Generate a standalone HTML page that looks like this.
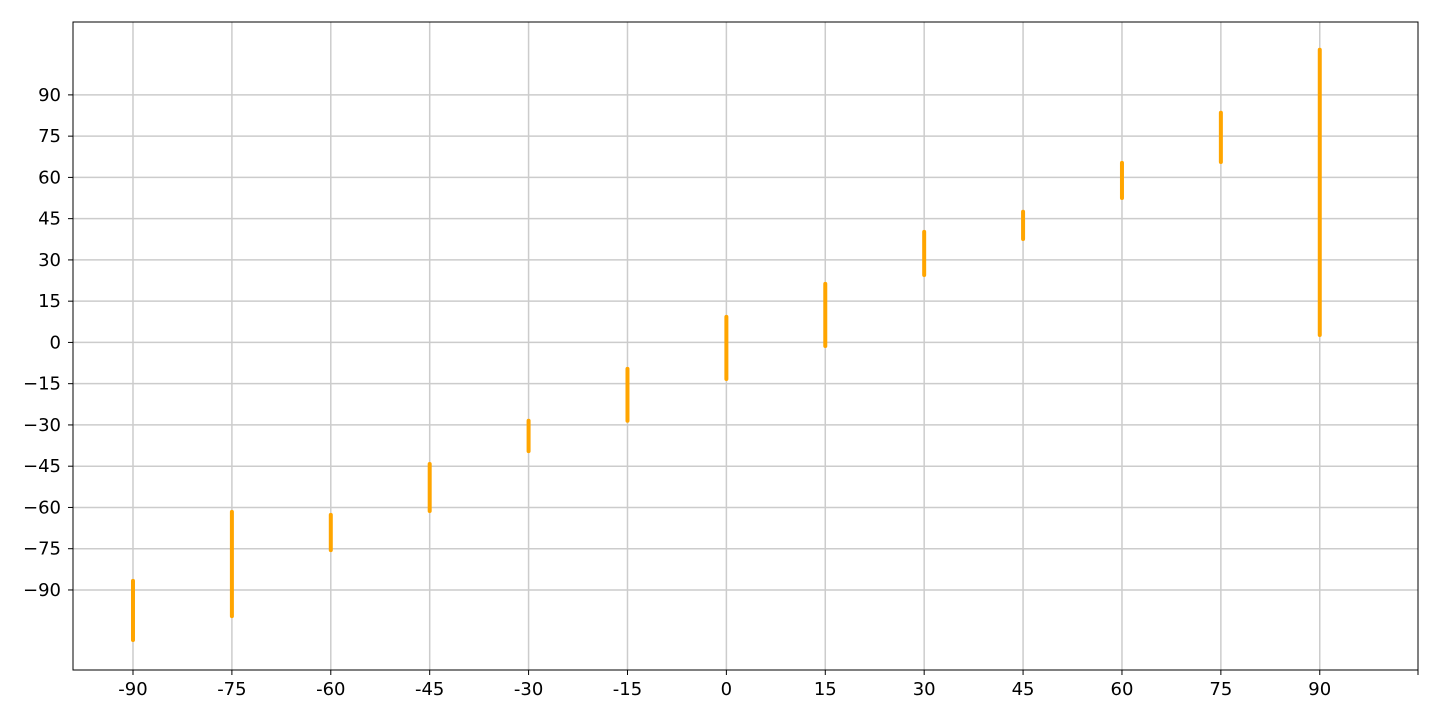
<!DOCTYPE html>
<html><head><meta charset="utf-8"><style>
html,body{margin:0;padding:0;background:#fff;}
svg text{font-family:"DejaVu Sans","Liberation Sans",sans-serif;font-size:18px;fill:#000;}
</style></head><body>
<svg id="chart" width="1440" height="720" xmlns="http://www.w3.org/2000/svg"></svg>
<script>
const categories = [-90,-75,-60,-45,-30,-15,0,15,30,45,60,75,90];
const lowValues  = [-108.2,-99.5,-75.5,-61.3,-39.5,-28.5,-13.3,-1.3,24.5,37.6,52.5,65.6,2.7];
const highValues = [-86.7,-61.6,-62.7,-44.2,-28.5,-9.6,9.3,21.3,40.2,47.5,65.3,83.5,106.4];
const xTickLabels = [-90,-75,-60,-45,-30,-15,0,15,30,45,60,75,90];
const yTickLabels = [-90,-75,-60,-45,-30,-15,0,15,30,45,60,75,90];

const L=73,R=1418,T=22,B=670;
const xMin=-99.1,xMax=104.9,yMin=-119.1,yMax=116.5;
const sx=v=>L+(v-xMin)/(xMax-xMin)*(R-L);
const sy=v=>B-(v-yMin)/(yMax-yMin)*(B-T);
const svg=document.getElementById('chart');
const NS='http://www.w3.org/2000/svg';
function mk(tag,attrs,parent){const e=document.createElementNS(NS,tag);for(const k in attrs)e.setAttribute(k,attrs[k]);(parent||svg).appendChild(e);return e;}

const grid=mk('g',{});


xTickLabels.forEach(v=>{
  const x=sx(v);
  const gl=mk('line',{x1:x,x2:x,y1:T,y2:B,stroke:'#cccccc','stroke-width':1.5},grid);
  
  
  const tk=mk('line',{x1:x,x2:x,y1:B,y2:B+5,stroke:'#000','stroke-width':1});
  
  
  const t=mk('text',{x:x,y:B+25,'text-anchor':'middle'});
  t.textContent=v;
  
  
});
const extra=mk('line',{x1:R,x2:R,y1:B,y2:B+5,stroke:'#000','stroke-width':1});


yTickLabels.forEach(v=>{
  const y=sy(v);
  const gl=mk('line',{x1:L,x2:R,y1:y,y2:y,stroke:'#cccccc','stroke-width':1.5},grid);
  
  
  const tk=mk('line',{x1:L-5,x2:L,y1:y,y2:y,stroke:'#000','stroke-width':1});
  
  
  const t=mk('text',{x:L-12,y:y+6,'text-anchor':'end'});
  t.textContent=String(v).replace('-','\u2212');
  
  
});
categories.forEach((c,i)=>{
  const bar=mk('line',{x1:sx(c),x2:sx(c),y1:sy(lowValues[i]),y2:sy(highValues[i]),stroke:'#FFA500','stroke-width':4,'stroke-linecap':'round'});
  
  
});
const frame=mk('rect',{x:L,y:T,width:R-L,height:B-T,fill:'none',stroke:'#000','stroke-width':1});


</script>
</body></html>
